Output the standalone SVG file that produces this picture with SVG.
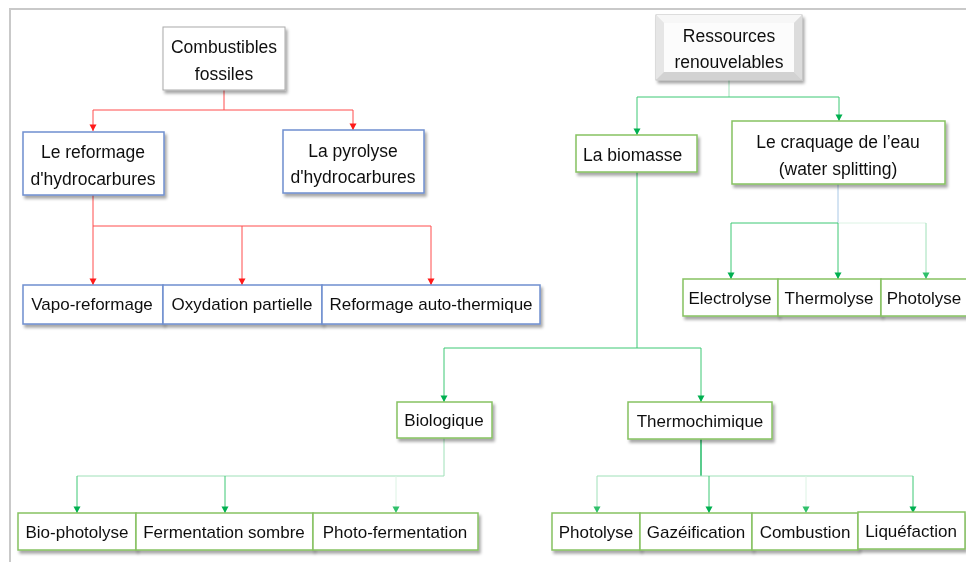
<svg xmlns="http://www.w3.org/2000/svg" width="966" height="562" viewBox="0 0 966 562">
<defs>
<filter id="sh" x="-10%" y="-20%" width="130%" height="160%">
<feDropShadow dx="2" dy="3" stdDeviation="1.6" flood-color="#000" flood-opacity="0.35"/>
</filter>
<marker id="ar" markerUnits="userSpaceOnUse" markerWidth="8" markerHeight="8" refX="4" refY="7" viewBox="0 0 8 8">
<path d="M0.5,0.5 L7.5,0.5 L4,7 Z" fill="#ff1a1a"/>
</marker>
<marker id="ag" markerUnits="userSpaceOnUse" markerWidth="8" markerHeight="8" refX="4" refY="7" viewBox="0 0 8 8">
<path d="M0.5,0.5 L7.5,0.5 L4,7 Z" fill="#00b050"/>
</marker>
<marker id="agl" markerUnits="userSpaceOnUse" markerWidth="8" markerHeight="8" refX="4" refY="7" viewBox="0 0 8 8">
<path d="M0.5,0.5 L7.5,0.5 L4,7 Z" fill="#2fc06a"/>
</marker>
</defs>
<style>
text{font-family:"Liberation Sans",Arial,sans-serif;fill:#111;text-anchor:middle}
.t17{font-size:17.5px}
.t16{font-size:17px}
.bb{fill:#fff;stroke:#6f8fcf;stroke-width:1.5}
.gb{fill:#fff;stroke:#86c262;stroke-width:1.5}
.gr{fill:#fff;stroke:#aaa;stroke-width:1}
.r{fill:none;stroke:#ff4d4d;stroke-width:1}
.g{fill:none;stroke:#3cc874;stroke-width:1}
.gl{fill:none;stroke:#9fe0b8;stroke-width:1}
.gf{fill:none;stroke:#dcf3e4;stroke-width:1}
.gd{fill:none;stroke:#00b050;stroke-width:1.3}
.bl{fill:none;stroke:#a9c8e6;stroke-width:1}
</style>
<g id="frame">
<path d="M10,562 V9 H966" fill="none" stroke="#c9c9c9" stroke-width="2"/>
</g>
<g id="connectors">
<path class="r" d="M224,90 V110 M93,110 H353"/>
<path class="r" d="M93,110 V131" marker-end="url(#ar)"/>
<path class="r" d="M353,110 V130" marker-end="url(#ar)"/>
<path class="r" d="M93,195 V226 H431"/>
<path class="r" d="M93,226 V285" marker-end="url(#ar)"/>
<path class="r" d="M242,226 V285" marker-end="url(#ar)"/>
<path class="r" d="M431,226 V285" marker-end="url(#ar)"/>
<path class="gl" d="M729,80 V97"/>
<path class="g" d="M637,97 H839"/>
<path class="g" d="M637,97 V135" marker-end="url(#ag)"/>
<path class="g" d="M839,97 V121" marker-end="url(#ag)"/>
<path class="g" d="M637,172 V348 M444,348 H701"/>
<path class="g" d="M444,348 V402" marker-end="url(#ag)"/>
<path class="g" d="M701,348 V402" marker-end="url(#ag)"/>
<path class="bl" d="M838,184 V223"/>
<path class="g" d="M731,223 H838"/>
<path class="gf" d="M838,223 H926"/>
<path class="g" d="M731,223 V279" marker-end="url(#ag)"/>
<path class="g" d="M838,223 V279" marker-end="url(#ag)"/>
<path class="gl" d="M926,223 V279" marker-end="url(#agl)"/>
<path class="gl" d="M444,438 V476 H77"/>
<path class="g" d="M77,476 V513" marker-end="url(#ag)"/>
<path class="g" d="M225,476 V513" marker-end="url(#ag)"/>
<path class="gf" d="M396,476 V513" marker-end="url(#agl)"/>
<path class="gd" d="M701,439 V476"/>
<path class="gl" d="M597,476 H913"/>
<path class="gl" d="M597,476 V513" marker-end="url(#agl)"/>
<path class="g" d="M709,476 V513" marker-end="url(#ag)"/>
<path class="gf" d="M806,476 V513" marker-end="url(#agl)"/>
<path class="g" d="M913,476 V513" marker-end="url(#ag)"/>
</g>
<g id="combustibles" filter="url(#sh)">
<rect class="gr" x="163" y="27" width="122" height="63"/>
<text class="t17" x="224" y="53">Combustibles</text>
<text class="t17" x="224" y="80">fossiles</text>
</g>
<g id="reformage" filter="url(#sh)">
<rect class="bb" x="23" y="132" width="141" height="63"/>
<text class="t17" x="93" y="158">Le reformage</text>
<text class="t17" x="93" y="185">d'hydrocarbures</text>
</g>
<g id="pyrolyse" filter="url(#sh)">
<rect class="bb" x="283" y="130" width="141" height="63"/>
<text class="t17" x="353" y="157">La pyrolyse</text>
<text class="t17" x="353" y="183">d'hydrocarbures</text>
</g>
<g id="vapo" filter="url(#sh)">
<rect class="bb" x="23" y="285" width="140" height="39"/>
<text class="t16" x="92" y="310">Vapo-reformage</text>
</g>
<g id="oxydation" filter="url(#sh)">
<rect class="bb" x="163" y="285" width="159" height="39"/>
<text class="t16" x="242" y="310">Oxydation partielle</text>
</g>
<g id="autotherm" filter="url(#sh)">
<rect class="bb" x="322" y="285" width="218" height="39"/>
<text class="t16" x="431" y="310">Reformage auto-thermique</text>
</g>
<g id="ressources" filter="url(#sh)">
<rect x="656" y="15" width="146" height="65" fill="#e8e8e8" stroke="#bdbdbd" stroke-width="1"/>
<polygon points="656,15 802,15 794,23 664,23" fill="#f7f7f7"/>
<polygon points="656,15 664,23 664,72 656,80" fill="#e6e6e6"/>
<polygon points="802,15 802,80 794,72 794,23" fill="#dcdcdc"/>
<polygon points="656,80 664,72 794,72 802,80" fill="#d2d2d2"/>
<rect x="664" y="23" width="130" height="49" fill="#fcfcfc"/>
<text class="t17" x="729" y="42">Ressources</text>
<text class="t17" x="729" y="68">renouvelables</text>
</g>
<g id="biomasse" filter="url(#sh)">
<rect class="gb" x="576" y="135" width="121" height="37"/>
<text class="t17" x="583" y="161" style="text-anchor:start">La biomasse</text>
</g>
<g id="craquage" filter="url(#sh)">
<rect class="gb" x="732" y="121" width="213" height="63"/>
<text class="t17" x="838" y="148">Le craquage de l’eau</text>
<text class="t17" x="838" y="175">(water splitting)</text>
</g>
<g id="electrolyse" filter="url(#sh)">
<rect class="gb" x="683" y="279" width="95" height="37"/>
<text class="t16" x="730" y="304">Electrolyse</text>
</g>
<g id="thermolyse" filter="url(#sh)">
<rect class="gb" x="778" y="279" width="103" height="37"/>
<text class="t16" x="829" y="304">Thermolyse</text>
</g>
<g id="photolyse1" filter="url(#sh)">
<rect class="gb" x="881" y="279" width="88" height="37"/>
<text class="t16" x="924" y="304">Photolyse</text>
</g>
<g id="biologique" filter="url(#sh)">
<rect class="gb" x="397" y="402" width="95" height="36"/>
<text class="t16" x="444" y="426">Biologique</text>
</g>
<g id="thermochimique" filter="url(#sh)">
<rect class="gb" x="628" y="402" width="144" height="37"/>
<text class="t16" x="700" y="427">Thermochimique</text>
</g>
<g id="biophotolyse" filter="url(#sh)">
<rect class="gb" x="18" y="513" width="118" height="37"/>
<text class="t16" x="77" y="538">Bio-photolyse</text>
</g>
<g id="fermentation" filter="url(#sh)">
<rect class="gb" x="136" y="513" width="177" height="37"/>
<text class="t16" x="224" y="538">Fermentation sombre</text>
</g>
<g id="photofermentation" filter="url(#sh)">
<rect class="gb" x="313" y="513" width="165" height="37"/>
<text class="t16" x="395" y="538">Photo-fermentation</text>
</g>
<g id="photolyse2" filter="url(#sh)">
<rect class="gb" x="552" y="513" width="88" height="37"/>
<text class="t16" x="596" y="538">Photolyse</text>
</g>
<g id="gazeification" filter="url(#sh)">
<rect class="gb" x="640" y="513" width="112" height="37"/>
<text class="t16" x="696" y="538">Gazéification</text>
</g>
<g id="combustion" filter="url(#sh)">
<rect class="gb" x="752" y="513" width="106" height="37"/>
<text class="t16" x="805" y="538">Combustion</text>
</g>
<g id="liquefaction" filter="url(#sh)">
<rect class="gb" x="858" y="512" width="107" height="37"/>
<text class="t16" x="911" y="537">Liquéfaction</text>
</g>
</svg>
